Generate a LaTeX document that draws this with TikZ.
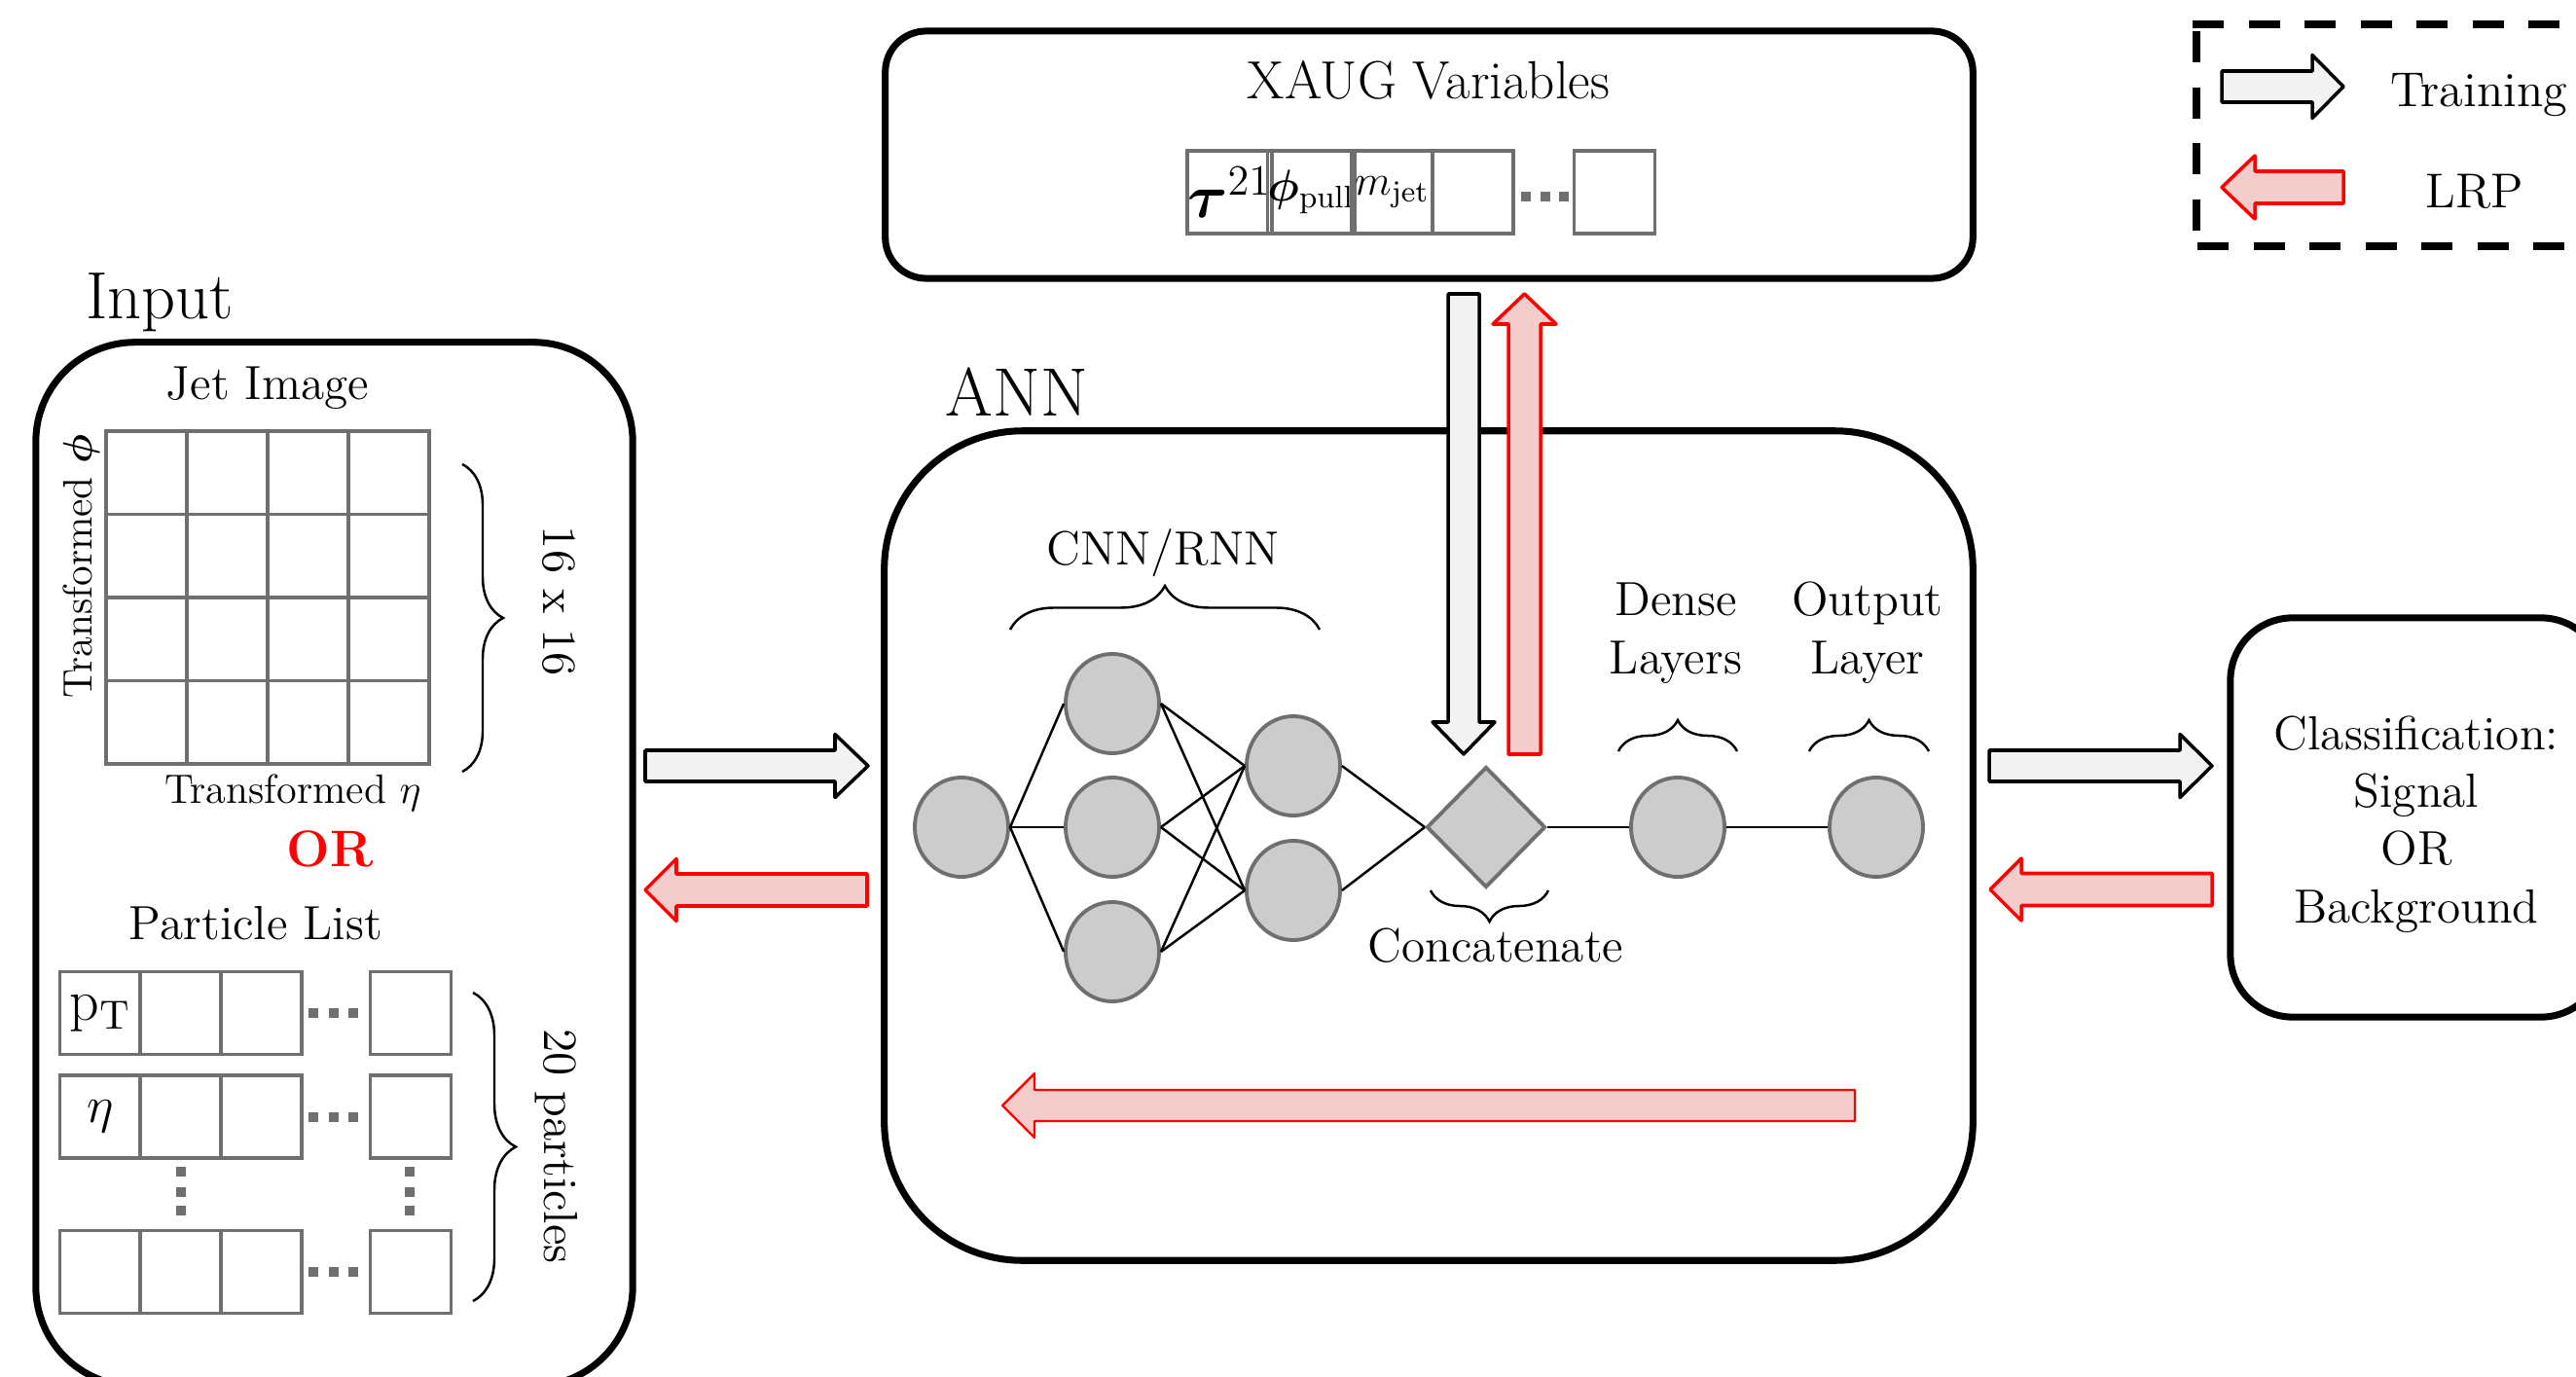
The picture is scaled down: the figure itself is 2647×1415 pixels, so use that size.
\RequirePackage{fix-cm}
\documentclass[tikz,border=0pt]{standalone}
\usepackage{amsmath}
\usepackage{bm}
\usetikzlibrary{shapes.geometric,decorations.pathreplacing}
\definecolor{trfill}{HTML}{F2F2F2}
\definecolor{lrpfill}{HTML}{F4CCCC}
\definecolor{lrpred}{HTML}{FF0000}
\definecolor{cellgray}{HTML}{6F6F6F}
\definecolor{nodefill}{HTML}{CCCCCC}
\newcommand{\fsz}[2]{\fontsize{#1}{#2}\selectfont}
% block arrows (coordinates in px of the reference, y downwards)
\newcommand{\blockright}[7]{\filldraw[#7] ({#1},{#3-#4}) -- ({#2-#6},{#3-#4}) -- ({#2-#6},{#3-#5}) -- ({#2},{#3}) -- ({#2-#6},{#3+#5}) -- ({#2-#6},{#3+#4}) -- ({#1},{#3+#4}) -- cycle;}
\newcommand{\blockleft}[7]{\filldraw[#7] ({#2},{#3-#4}) -- ({#1+#6},{#3-#4}) -- ({#1+#6},{#3-#5}) -- ({#1},{#3}) -- ({#1+#6},{#3+#5}) -- ({#1+#6},{#3+#4}) -- ({#2},{#3+#4}) -- cycle;}
\newcommand{\blockdown}[7]{\filldraw[#7] ({#1-#4},{#2}) -- ({#1-#4},{#3-#6}) -- ({#1-#5},{#3-#6}) -- ({#1},{#3}) -- ({#1+#5},{#3-#6}) -- ({#1+#4},{#3-#6}) -- ({#1+#4},{#2}) -- cycle;}
\newcommand{\blockup}[7]{\filldraw[#7] ({#1-#4},{#2}) -- ({#1-#4},{#3+#6}) -- ({#1-#5},{#3+#6}) -- ({#1},{#3}) -- ({#1+#5},{#3+#6}) -- ({#1+#4},{#3+#6}) -- ({#1+#4},{#2}) -- cycle;}
\begin{document}
\begin{tikzpicture}[x=0.01cm,y=-0.01cm,
  bigbox/.style={draw, line width=2pt, inner sep=0pt, outer sep=0pt},
  legdash/.style={line width=2.3pt, dash pattern=on 0.32cm off 0.255cm},
  tra/.style={fill=trfill, draw=black, line width=1pt, line join=round},
  lrp/.style={fill=lrpfill, draw=lrpred, line width=1pt, line join=round},
  txt/.style={font=\fsz{14}{17}, inner sep=0pt},
  bigtxt/.style={font=\fsz{19.5}{23}, inner sep=0pt},
  smtxt/.style={font=\fsz{12}{14}, inner sep=0pt},
  ortxt/.style={font=\fsz{15}{18}\bfseries, text=lrpred, inner sep=0pt},
  cell/.style={draw=cellgray, line width=1.1pt, minimum width=0.83cm, minimum height=0.85cm, inner sep=0pt},
  gridline/.style={draw=cellgray, line width=1.1pt, line cap=rect},
  neuron/.style={ellipse, draw=cellgray, fill=nodefill, line width=1.1pt, minimum width=0.96cm, minimum height=1.02cm, inner sep=0pt},
  catnode/.style={diamond, draw=cellgray, fill=nodefill, line width=1.1pt, minimum width=1.22cm, minimum height=1.24cm, inner sep=0pt},
  edge/.style={line width=0.7pt},
  brc/.style={decorate, decoration={brace, amplitude=#1}, line width=0.7pt}
]
\useasboundingbox (0,0) rectangle (2647,1415);

% ---------- main boxes ----------
\node[bigbox, rounded corners=0.42cm, minimum width=11.17cm, minimum height=2.54cm] (xaug) at (1468.5,159) {};
\node[bigbox, rounded corners=1.02cm, minimum width=6.13cm, minimum height=10.72cm] (inp) at (343.5,888) {};
\node[bigbox, rounded corners=1.42cm, minimum width=11.18cm, minimum height=8.52cm] (ann) at (1468,869) {};
\node[bigbox, rounded corners=0.64cm, minimum width=3.83cm, minimum height=4.10cm] (cls) at (2483.5,840) {};

% ---------- legend ----------
\draw[legdash] (2253,25) -- (2700,25);
\draw[legdash] (2257,32) -- (2257,253);
\draw[legdash] (2258,253) -- (2700,253);
\blockright{2283}{2408}{89}{16}{32.5}{32}{tra}
\blockleft{2283}{2408}{192.5}{16.5}{32.5}{34}{lrp}
\node[txt, anchor=base, font=\fsz{14.3}{17}] (legtr) at (2547,110) {Training};
\node[txt, anchor=base, font=\fsz{14.3}{17}] (leglrp) at (2543,213) {LRP};

% ---------- XAUG ----------
\node[txt, anchor=base, font=\fsz{15.7}{19}] (xaugt) at (1468,101) {XAUG Variables};
\node[cell, font=\fsz{18}{20}] (xc1) at (1263.5,197.5) {$\bm{\tau}^{21}$};
\node[cell, font=\fsz{13}{15}] (xc2) at (1347,197.5) {$\bm{\phi}_{\mathrm{pull}}$};
\node[cell, font=\fsz{12.5}{15}] (xc3) at (1430.5,197.5) {$m_{\mathrm{jet}}$};
\node[cell] (xc4) at (1513.5,197.5) {};
\node[cell] (xc5) at (1659,197.5) {};
\foreach \dx in {1568,1588,1607} \fill[cellgray] ({\dx-5},{197}) rectangle ({\dx+5},{207});

% ---------- Input ----------
\node[bigtxt, anchor=base] (inpt) at (164,327) {Input};
\node[txt, anchor=base] (jet) at (275,410) {Jet Image};
\foreach \gx in {109,192,275,358,441} \draw[gridline] (\gx,443) -- (\gx,785);
\foreach \gy in {443,528.5,614,699.5,785} \draw[gridline] (109,\gy) -- (441,\gy);
\node[smtxt, anchor=base, rotate=90] (tphi) at (94,582) {Transformed $\bm{\phi}$};
\node[smtxt, anchor=base] (teta) at (301,825) {Transformed $\eta$};
\draw[brc=0.42cm] (475,477) -- (475,793);
\node[txt, rotate=-90] (d16) at (574,618) {16 x 16};
\node[ortxt, anchor=base] (or1) at (339,890) {OR};
\node[txt, anchor=base] (plist) at (263,965) {Particle List};

\node[cell, font=\fsz{17}{20}] (p11) at (103,1041) {$\mathrm{p_T}$};
\node[cell] (p12) at (185.5,1041) {};
\node[cell] (p13) at (268.5,1041) {};
\node[cell] (p14) at (422,1041) {};
\node[cell, font=\fsz{15}{18}] (p21) at (103,1147.5) {$\eta$};
\node[cell] (p22) at (185.5,1147.5) {};
\node[cell] (p23) at (268.5,1147.5) {};
\node[cell] (p24) at (422,1147.5) {};
\node[cell] (p31) at (103,1307) {};
\node[cell] (p32) at (185.5,1307) {};
\node[cell] (p33) at (268.5,1307) {};
\node[cell] (p34) at (422,1307) {};
\foreach \py in {1041,1147.5,1307}
  \foreach \dx in {322,343,363} \fill[cellgray] ({\dx-5},{\py-5}) rectangle ({\dx+5},{\py+5});
\foreach \vx in {186,421}
  \foreach \dy in {1204,1225,1244} \fill[cellgray] ({\vx-5},{\dy-5}) rectangle ({\vx+5},{\dy+5});
\draw[brc=0.44cm] (486,1020) -- (486,1337);
\node[txt, anchor=base, rotate=-90] (d20) at (559,1178) {20 particles};

% ---------- ANN ----------
\node[bigtxt, anchor=base, font=\fsz{20}{24}] (annt) at (1045,427) {ANN};
\node[neuron] (i1) at (988,850) {};
\node[neuron] (h1) at (1143,723) {};
\node[neuron] (h2) at (1143,850) {};
\node[neuron] (h3) at (1143,978) {};
\node[neuron] (g1) at (1329,787) {};
\node[neuron] (g2) at (1329,915) {};
\node[catnode] (cat) at (1527,850) {};
\node[neuron] (d1) at (1724,850) {};
\node[neuron] (o1) at (1928,850) {};
\foreach \h in {h1,h2,h3} {
  \draw[edge] (i1.east) -- (\h.west);
  \foreach \g in {g1,g2} \draw[edge] (\h.east) -- (\g.west);
}
\foreach \g in {g1,g2} \draw[edge] (\g.east) -- (cat.west);
\draw[edge] (cat.east) -- (d1.west);
\draw[edge] (d1.east) -- (o1.west);

\draw[brc=0.45cm] (1038,647) -- (1356,647);
\node[txt, anchor=base] (cnnt) at (1195,580) {CNN/RNN};
\draw[brc=0.32cm] (1663,772) -- (1785,772);
\draw[brc=0.32cm] (1859,772) -- (1982,772);
\node[txt, anchor=base] (dense1) at (1722,632) {Dense};
\node[txt, anchor=base] (dense2) at (1722,692) {Layers};
\node[txt, anchor=base] (out1) at (1919,632) {Output};
\node[txt, anchor=base] (out2) at (1919,692) {Layer};
\draw[brc=0.32cm] (1591,915) -- (1470,915);
\node[txt, anchor=base] (catt) at (1537,988) {Concatenate};

% ---------- classification ----------
\node[txt, anchor=base] (cl1) at (2483,770) {Classification:};
\node[txt, anchor=base] (cl2) at (2483,829) {Signal};
\node[txt, anchor=base] (cl3) at (2483,888) {OR};
\node[txt, anchor=base] (cl4) at (2483,948) {Background};

% ---------- block arrows ----------
\blockright{663}{892}{787}{16}{32.5}{34}{tra}
\blockleft{663}{891}{914.5}{16.5}{32}{32}{lrp}
\blockright{2044}{2273}{787}{16}{32.5}{33}{tra}
\blockleft{2045}{2273}{914}{16.5}{32}{32}{lrp}
\blockleft{1030}{1906}{1136}{16}{33}{33}{lrp, line width=0.7pt}
\blockdown{1504}{302}{775}{16}{32}{33}{tra}
\blockup{1566.5}{775}{302}{16.5}{32.5}{31}{lrp}
\end{tikzpicture}
\end{document}
